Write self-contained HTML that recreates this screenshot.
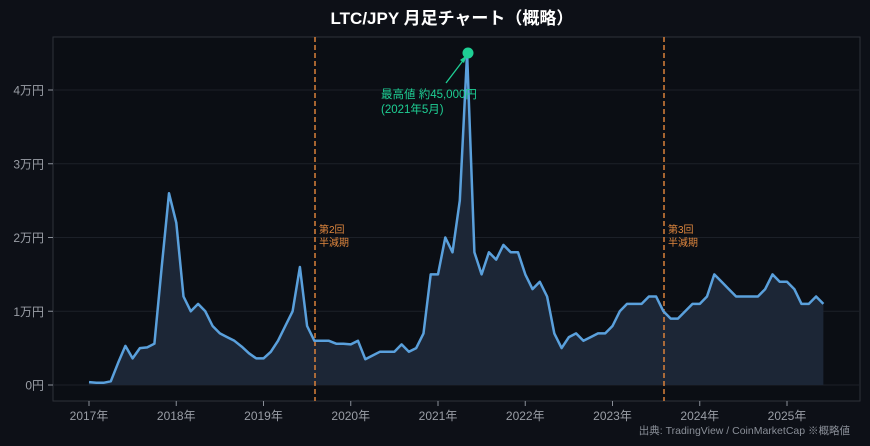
<!DOCTYPE html>
<html><head><meta charset="utf-8"><style>
html,body{margin:0;padding:0;background:#0d1017;}
svg{display:block;font-family:"Liberation Sans","Noto Sans CJK JP",sans-serif;}
</style></head><body>
<svg id="s" width="870" height="446" viewBox="0 0 870 446" xmlns="http://www.w3.org/2000/svg">
<rect width="870" height="446" fill="#0d1017"/>
<text x="452" y="24" fill="#ffffff" font-size="17" font-weight="bold" text-anchor="middle">LTC/JPY  月足チャート（概略）</text>
<rect x="53" y="37" width="807" height="364" fill="#0b0e14" stroke="#2e323a" stroke-width="1"/>
<g id="grid"></g>
<path id="area" fill="#1c2636" stroke="none"/>
<line x1="315" y1="37" x2="315" y2="401" stroke="#d9803a" stroke-width="1.5" stroke-dasharray="5,3"/>
<line x1="664" y1="37" x2="664" y2="401" stroke="#d9803a" stroke-width="1.5" stroke-dasharray="5,3"/>
<path id="line" fill="none" stroke="#5aa0dc" stroke-width="2.5" stroke-linejoin="round"/>
<text x="319" y="233" fill="#e0873e" font-size="10">第2回</text>
<text x="319" y="246" fill="#e0873e" font-size="10">半減期</text>
<text x="668" y="233" fill="#e0873e" font-size="10">第3回</text>
<text x="668" y="246" fill="#e0873e" font-size="10">半減期</text>
<line x1="446" y1="83" x2="465" y2="58" stroke="#1ecf94" stroke-width="1.3"/>
<polygon points="467,55 460,60 464,63" fill="#1ecf94"/>
<circle cx="468" cy="53" r="5.5" fill="#1ecf94"/>
<text x="381" y="98" fill="#1ecf94" font-size="11.5">最高値 約45,000円</text>
<text x="381" y="113" fill="#1ecf94" font-size="11.5">(2021年5月)</text>
<text x="850" y="434" fill="#8a8f98" font-size="10.5" text-anchor="end">出典: TradingView / CoinMarketCap  ※概略値</text>
</svg>
<script>
var v=[0.04,0.03,0.03,0.05,0.3,0.53,0.36,0.5,0.51,0.56,1.6,2.6,
2.2,1.2,1.0,1.1,1.0,0.8,0.7,0.65,0.6,0.52,0.43,0.36,
0.36,0.45,0.6,0.8,1.0,1.6,0.8,0.6,0.6,0.6,0.56,0.56,
0.55,0.6,0.35,0.4,0.45,0.45,0.45,0.55,0.45,0.5,0.7,1.5,
1.5,2.0,1.8,2.5,4.5,1.8,1.5,1.8,1.7,1.9,1.8,1.8,
1.5,1.3,1.4,1.2,0.7,0.5,0.65,0.7,0.6,0.65,0.7,0.7,
0.8,1.0,1.1,1.1,1.1,1.2,1.2,1.0,0.9,0.9,1.0,1.1,
1.1,1.2,1.5,1.4,1.3,1.2,1.2,1.2,1.2,1.3,1.5,1.4,
1.4,1.3,1.1,1.1,1.2,1.1];
function X(i){return 89+i*87.25/12;}function Y(a){return 385-a*73.75;}
var d="";for(var i=0;i<v.length;i++)d+=(i?"L":"M")+X(i).toFixed(1)+","+Y(v[i]).toFixed(1);
document.getElementById("line").setAttribute("d",d);
document.getElementById("area").setAttribute("d",d+"L"+X(v.length-1)+",385L89,385Z");
var g="";
for(var k=0;k<=4;k++){var y=Y(k);g+='<line x1="53" x2="860" y1="'+y+'" y2="'+y+'" stroke="#1c2028" stroke-width="1"/><line x1="48" x2="53" y1="'+y+'" y2="'+y+'" stroke="#8a8f98"/><text x="44" y="'+(y+4.5)+'" fill="#9a9ea6" font-size="12" text-anchor="end">'+(k?k+"万円":"0円")+'</text>';}
for(var yr=0;yr<=8;yr++){var x=89+yr*87.25;g+='<line x1="'+x+'" x2="'+x+'" y1="401" y2="406" stroke="#8a8f98"/><text x="'+x+'" y="420" fill="#9a9ea6" font-size="12" text-anchor="middle">'+(2017+yr)+'年</text>';}
document.getElementById("grid").innerHTML=g;
</script>
</body></html>
